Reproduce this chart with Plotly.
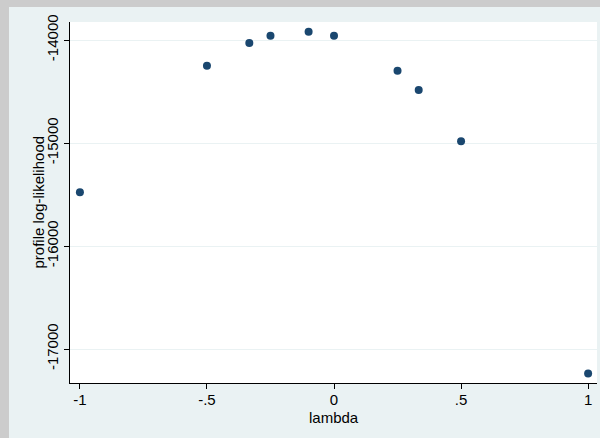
import plotly.graph_objects as go

lam = [-1, -0.5, -1/3, -0.25, -0.1, 0, 0.25, 1/3, 0.5, 1]
loglik = [-15479, -14250, -14029, -13958, -13919, -13958, -14299, -14486, -14982, -17237]

xtick_vals = [-1, -0.5, 0, 0.5, 1]
xtick_text = ["-1", "-.5", "0", ".5", "1"]
ytick_vals = [-17000, -16000, -15000, -14000]
ytick_text = ["-17000", "-16000", "-15000", "-14000"]
x_title = "lambda"
y_title = "profile log-likelihood"

W, H = 600, 438
L, R, T, B = 70, 3, 22, 55
pw, ph = W - L - R, H - T - B

fig = go.Figure()
fig.add_trace(go.Scatter(
    x=lam, y=loglik, mode="markers",
    marker=dict(color="#1a476f", size=8, line=dict(width=0)),
    showlegend=False, hoverinfo="x+y",
))

font = dict(family="Liberation Sans, Arial, sans-serif", size=15, color="#000000")

fig.update_layout(
    width=W, height=H,
    margin=dict(l=L, r=R, t=T, b=B, pad=0),
    paper_bgcolor="#eaf2f3",
    plot_bgcolor="#ffffff",
    font=font,
    xaxis=dict(
        range=[-1.039, 1.035], tickvals=xtick_vals, ticktext=xtick_text,
        showgrid=False, zeroline=False, showline=True, linecolor="#000000", linewidth=1,
        ticks="outside", ticklen=5, tickcolor="#000000", tickwidth=1,
        ticklabelstandoff=-2,
        tickfont=font,
    ),
    yaxis=dict(
        range=[-17330, -13825], tickvals=ytick_vals, ticktext=ytick_text,
        tickangle=-90,
        showgrid=True, gridcolor="#eaf2f3", gridwidth=1,
        zeroline=False, showline=True, linecolor="#000000", linewidth=1,
        ticks="outside", ticklen=5, tickcolor="#000000", tickwidth=1,
        tickfont=font,
    ),
)

# axis titles placed as annotations (Stata places them tight to the labels)
fig.add_annotation(text=x_title, xref="paper", yref="paper",
                   x=(334 - L) / pw, y=-(417 - (H - B)) / ph,
                   xanchor="center", yanchor="middle", showarrow=False, font=font)
fig.add_annotation(text=y_title, xref="paper", yref="paper",
                   x=-(L - 38) / pw, y=0.5, textangle=-90,
                   xanchor="center", yanchor="middle", showarrow=False, font=font)

# grey window border at the left and top
fig.add_shape(type="rect", xref="paper", yref="paper",
              x0=-L / pw, x1=(-L + 9) / pw, y0=-B / ph, y1=(ph + T) / ph,
              fillcolor="#cccccc", line=dict(width=0), layer="above")
fig.add_shape(type="rect", xref="paper", yref="paper",
              x0=-L / pw, x1=(pw + R) / pw, y0=(ph + T - 7) / ph, y1=(ph + T) / ph,
              fillcolor="#cccccc", line=dict(width=0), layer="above")

fig.write_html("out.html", config={"displayModeBar": False},
               post_script="document.body.style.margin='0';")
